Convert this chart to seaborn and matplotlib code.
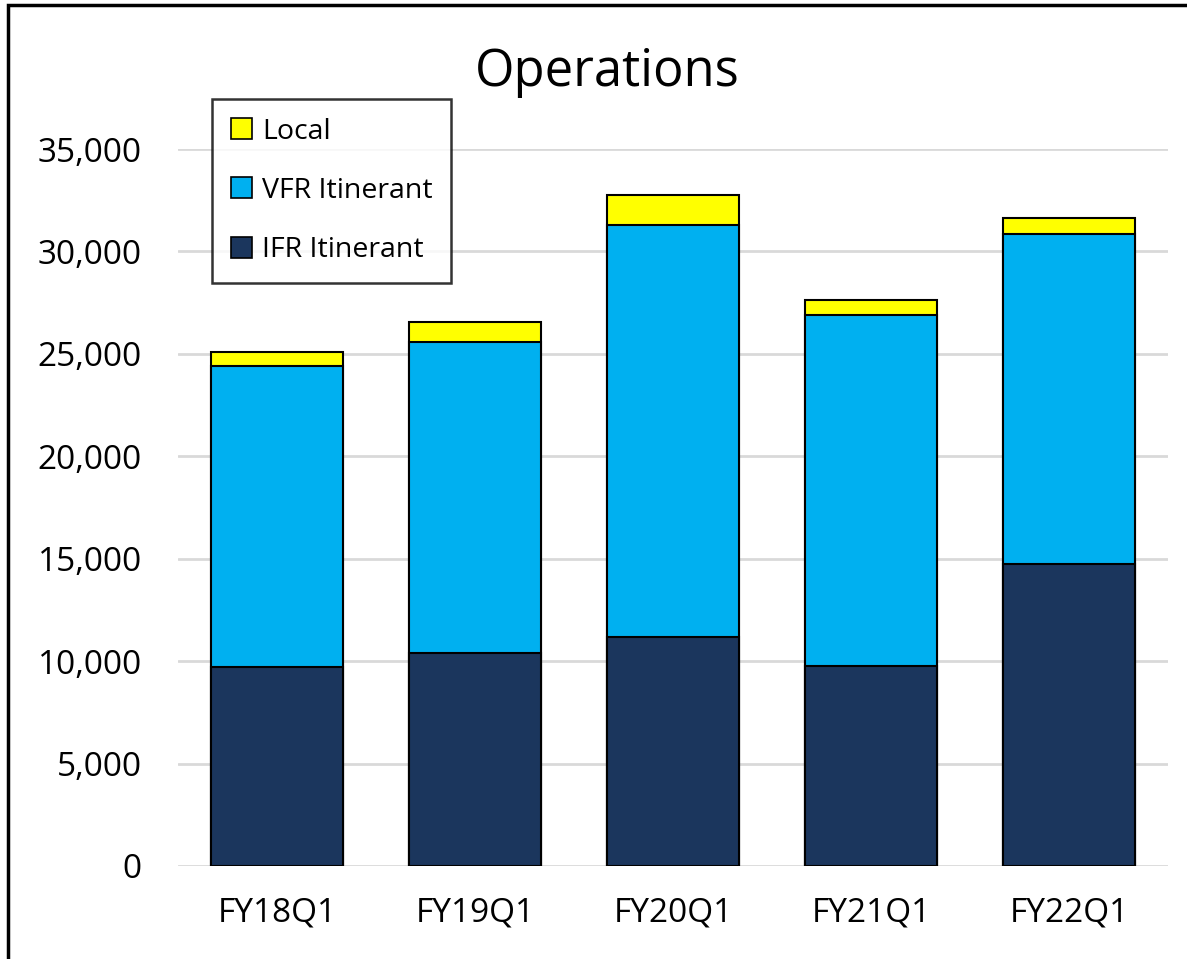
import pandas as pd
import matplotlib
matplotlib.use("Agg")
import matplotlib.pyplot as plt
from matplotlib.patches import Patch, Rectangle
from matplotlib.ticker import FuncFormatter
import seaborn as sns

# data
quarters = ["FY18Q1", "FY19Q1", "FY20Q1", "FY21Q1", "FY22Q1"]
ifr_itinerant = [9720, 10420, 11200, 9770, 14730]
vfr_itinerant = [14710, 15180, 20100, 17130, 16140]
local = [680, 960, 1460, 720, 740]

df = pd.DataFrame({
    "quarter": quarters,
    "IFR Itinerant": ifr_itinerant,
    "VFR Itinerant": vfr_itinerant,
    "Local": local,
})
# cumulative heights, drawn back to front to get a stacked look
df["ifr_top"] = df["IFR Itinerant"]
df["vfr_top"] = df["ifr_top"] + df["VFR Itinerant"]
df["local_top"] = df["vfr_top"] + df["Local"]

colors = {"Local": "#FFFF00", "VFR Itinerant": "#00B0F0", "IFR Itinerant": "#1B365D"}

sns.set_style("white")
plt.rcParams["font.family"] = ["Open Sans", "DejaVu Sans"]
plt.rcParams["text.color"] = "black"

fig = plt.figure(figsize=(11.87, 9.59), dpi=100)
ax = fig.add_axes([178 / 1187, 1 - 866 / 959, 990 / 1187, (866 - 149) / 959])

for col, c in [("local_top", colors["Local"]),
               ("vfr_top", colors["VFR Itinerant"]),
               ("ifr_top", colors["IFR Itinerant"])]:
    sns.barplot(data=df, x="quarter", y=col, color=c, width=0.67,
                edgecolor="black", linewidth=1.5, saturation=1, ax=ax, zorder=3)

ax.set_ylim(0, 35000)
ax.set_xlim(-0.5, 4.5)
ax.set_yticks(range(0, 35001, 5000))
ax.yaxis.set_major_formatter(FuncFormatter(lambda v, p: f"{int(v):,}"))
ax.grid(axis="y", color="#d9d9d9", linewidth=2, zorder=0)
ax.set_axisbelow(True)
for s in ax.spines.values():
    s.set_visible(False)
ax.tick_params(axis="both", length=0, labelsize=24, colors="black")
ax.tick_params(axis="y", pad=26)
ax.tick_params(axis="x", pad=22)
ax.set_xlabel("")
ax.set_ylabel("")

fig.text(607 / 1187, 1 - 73 / 959, "Operations", fontsize=36.5,
         ha="center", va="center", color="black")

handles = [Patch(facecolor=colors[k], edgecolor="black", linewidth=1.2, label=k)
           for k in ["Local", "VFR Itinerant", "IFR Itinerant"]]
leg = fig.legend(handles=handles, loc="upper left",
                 bbox_to_anchor=(212 / 1187, 1 - 99 / 959),
                 fontsize=20.5, frameon=True, fancybox=False, edgecolor="black",
                 handlelength=0.75, handleheight=0.75, handletextpad=0.35,
                 labelspacing=1.1, borderpad=0.65, borderaxespad=0)
leg.get_frame().set_linewidth(1.8)
leg.set_zorder(5)
for t in leg.get_texts():
    t.set_color("black")

# outer chart border
fig.add_artist(Rectangle((8 / 1187, -0.05), 1.1, 1 - 5 / 959 + 0.05,
                         transform=fig.transFigure, fill=False,
                         edgecolor="black", linewidth=2.5))

plt.savefig("out.png", dpi=100)
